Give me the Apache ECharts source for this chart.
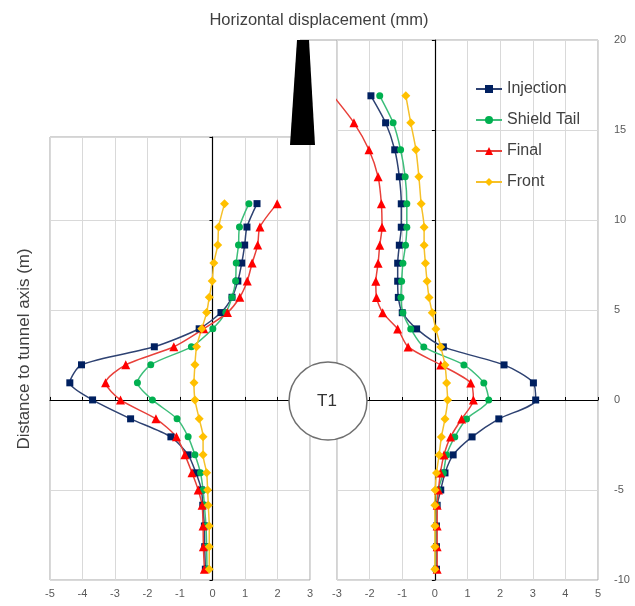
<!DOCTYPE html>
<html><head><meta charset="utf-8">
<script src="https://cdn.jsdelivr.net/npm/echarts@6/dist/echarts.min.js"></script>
<style>html,body{margin:0;padding:0;background:#fff}#c{width:635px;height:606px}</style>
</head><body><div id="c"></div>
<script>
// depth levels (m)
const depthR = [16.9, 15.4, 13.9, 12.4, 10.9, 9.6, 8.6, 7.6, 6.6, 5.7, 4.85, 3.95, 2.95, 1.95, 0.95, 0, -1.05, -2.05, -3.05, -4.05, -5.0, -5.85, -7.0, -8.15, -9.4];
const depthL = [10.9, 9.6, 8.6, 7.6, 6.6, 5.7, 4.85, 3.95, 2.95, 1.95, 0.95, 0, -1.05, -2.05, -3.05, -4.05, -5.0, -5.85, -7.0, -8.15, -9.4];
// left panel displacements (mm)
const injL   = [1.37, 1.06, 0.99, 0.9, 0.78, 0.6, 0.26, -0.41, -1.79, -4.03, -4.39, -3.69, -2.52, -1.28, -0.75, -0.51, -0.34, -0.3, -0.25, -0.24, -0.22];
const tailL  = [1.12, 0.83, 0.8, 0.73, 0.71, 0.6, 0.41, 0.01, -0.65, -1.9, -2.31, -1.85, -1.09, -0.75, -0.54, -0.37, -0.29, -0.25, -0.2, -0.18, -0.17];
const finalL = [1.99, 1.46, 1.39, 1.22, 1.07, 0.84, 0.46, -0.27, -1.19, -2.67, -3.29, -2.83, -1.74, -1.11, -0.85, -0.63, -0.44, -0.32, -0.29, -0.28, -0.25];
const frontL = [0.37, 0.19, 0.16, 0.04, -0.01, -0.1, -0.18, -0.33, -0.49, -0.54, -0.57, -0.54, -0.41, -0.29, -0.29, -0.18, -0.15, -0.13, -0.1, -0.1, -0.1];
// right panel displacements (mm)
const injR   = [-1.96, -1.51, -1.23, -1.09, -1.03, -1.03, -1.09, -1.14, -1.14, -1.12, -1.0, -0.56, 0.26, 2.12, 3.02, 3.09, 1.96, 1.14, 0.56, 0.31, 0.18, 0.07, 0.05, 0.05, 0.05];
const tailR  = [-1.69, -1.28, -1.05, -0.91, -0.86, -0.86, -0.9, -0.98, -1.02, -1.04, -0.98, -0.74, -0.34, 0.89, 1.5, 1.65, 0.97, 0.61, 0.36, 0.26, 0.1, 0.05, 0.03, 0.03, 0.02];
const finalR = [-3.12, -2.48, -2.02, -1.74, -1.64, -1.62, -1.69, -1.74, -1.81, -1.79, -1.6, -1.14, -0.82, 0.18, 1.1, 1.18, 0.82, 0.48, 0.28, 0.17, 0.11, 0.07, 0.07, 0.07, 0.07];
const frontR = [-0.89, -0.74, -0.58, -0.49, -0.42, -0.33, -0.33, -0.29, -0.24, -0.18, -0.08, 0.03, 0.18, 0.31, 0.36, 0.39, 0.31, 0.2, 0.13, 0.05, 0.01, 0.0, 0.0, 0.0, 0.0];
const seriesNames = ['Injection', 'Shield Tail', 'Final', 'Front'];
const xTicksL = [-5, 3];
const xTicksR = [-3, 5];
const yTicks = [-10, 20];

const styles = {
  'Injection':   {line: '#2E4272', mark: '#002060', symbol: 'rect', size: 7},
  'Shield Tail': {line: '#3DBE7A', mark: '#00B050', symbol: 'circle', size: 7},
  'Final':       {line: '#E8403A', mark: '#FF0000', symbol: 'triangle', size: 9},
  'Front':       {line: '#F5C02A', mark: '#FFC000', symbol: 'diamond', size: 9}
};
const pair = (xs, ys) => xs.map((v, i) => [v, ys[i]]);
const leftData = [injL, tailL, finalL, frontL];
const rightData = [injR, tailR, finalR, frontR];

const font = 'Liberation Sans, Arial, sans-serif';
const gridLine = {show: true, lineStyle: {color: '#D9D9D9', width: 1}};
function mainX(idx, min, max) {
  return {type: 'value', gridIndex: idx, min: min, max: max, interval: 1, position: 'bottom',
    axisLine: {show: false, onZero: false}, axisTick: {show: false},
    axisLabel: {color: '#595959', fontSize: 11, fontFamily: font, margin: 8},
    splitLine: gridLine};
}
function zeroX(idx, min, max, yIdx) {
  return {type: 'value', gridIndex: idx, min: min, max: max, interval: 1,
    axisLine: {show: true, onZero: true, onZeroAxisIndex: yIdx, lineStyle: {color: '#000', width: 1.2}},
    axisTick: {show: true, length: 3, lineStyle: {color: '#000'}}, axisLabel: {show: false}, splitLine: {show: false}};
}
function mainY(idx, min, max, labels) {
  return {type: 'value', gridIndex: idx, min: min, max: max, interval: 5, position: 'right',
    axisLine: {show: false, onZero: false}, axisTick: {show: false},
    axisLabel: {show: labels, color: '#595959', fontSize: 11, fontFamily: font, margin: 16},
    splitLine: gridLine};
}
function zeroY(idx, min, max, xIdx) {
  return {type: 'value', gridIndex: idx, min: min, max: max, interval: 5,
    axisLine: {show: true, onZero: true, onZeroAxisIndex: xIdx, lineStyle: {color: '#000', width: 1.2}},
    axisTick: {show: true, length: 3, lineStyle: {color: '#000'}}, axisLabel: {show: false}, splitLine: {show: false}};
}

const series = [];
seriesNames.forEach((n, k) => {
  const s = styles[n];
  [[0, leftData[k], depthL], [1, rightData[k], depthR]].forEach(([g, xs, ys]) => {
    series.push({
      name: n, type: 'line', xAxisIndex: g * 2, yAxisIndex: g * 2,
      data: pair(xs, ys), smooth: 0.25, clip: true,
      symbol: s.symbol, symbolSize: s.size, showAllSymbol: true,
      lineStyle: {color: s.line, width: 1.5},
      itemStyle: {color: s.mark, borderWidth: 0},
      z: 5
    });
  });
});

const option = {
  backgroundColor: '#fff',
  animation: false,
  title: {text: 'Horizontal displacement (mm)', left: 314, top: 7, textAlign: 'center',
    textStyle: {fontSize: 16.5, fontWeight: 'normal', color: '#404040', fontFamily: font}},
  legend: {
    orient: 'vertical', left: 470, top: 75, itemWidth: 26, itemHeight: 10, itemGap: 13,
    data: seriesNames,
    textStyle: {fontSize: 16, color: '#404040', fontFamily: font, lineHeight: 18}
  },
  grid: [
    {left: 50, top: 137, width: 260, height: 443, show: true, borderColor: '#A6A6A6', borderWidth: 1, backgroundColor: 'transparent'},
    {left: 337, top: 40, width: 261, height: 540, show: true, borderColor: '#A6A6A6', borderWidth: 1, backgroundColor: 'transparent'}
  ],
  xAxis: [
    mainX(0, xTicksL[0], xTicksL[1]), zeroX(0, xTicksL[0], xTicksL[1], 0),
    mainX(1, xTicksR[0], xTicksR[1]), zeroX(1, xTicksR[0], xTicksR[1], 2)
  ],
  yAxis: [
    mainY(0, yTicks[0], 14.6, false), zeroY(0, yTicks[0], 14.6, 0),
    mainY(1, yTicks[0], yTicks[1], true), zeroY(1, yTicks[0], yTicks[1], 2)
  ],
  series: series,
  graphic: [
    {type: 'line', shape: {x1: 300, y1: 40, x2: 337, y2: 40}, style: {stroke: '#A6A6A6', lineWidth: 1}, z: 10},
    {type: 'polygon', shape: {points: [[297, 40], [309, 40], [315, 145], [290, 145]]}, style: {fill: '#000'}, z: 20},
    {type: 'circle', shape: {cx: 328, cy: 401, r: 39}, style: {fill: '#fff', stroke: '#707070', lineWidth: 1.5}, z: 20},
    {type: 'text', x: 327, y: 401, style: {text: 'T1', fontSize: 17, fontFamily: font, fill: '#333', textAlign: 'center', textVerticalAlign: 'middle'}, z: 21},
    {type: 'text', x: 24, y: 349, rotation: Math.PI / 2, style: {text: 'Distance to tunnel axis (m)', fontSize: 17, fontFamily: font, fill: '#404040', textAlign: 'center', textVerticalAlign: 'middle'}, z: 21}
  ]
};
echarts.init(document.getElementById('c'), null, {renderer: 'canvas'}).setOption(option);
</script></body></html>
